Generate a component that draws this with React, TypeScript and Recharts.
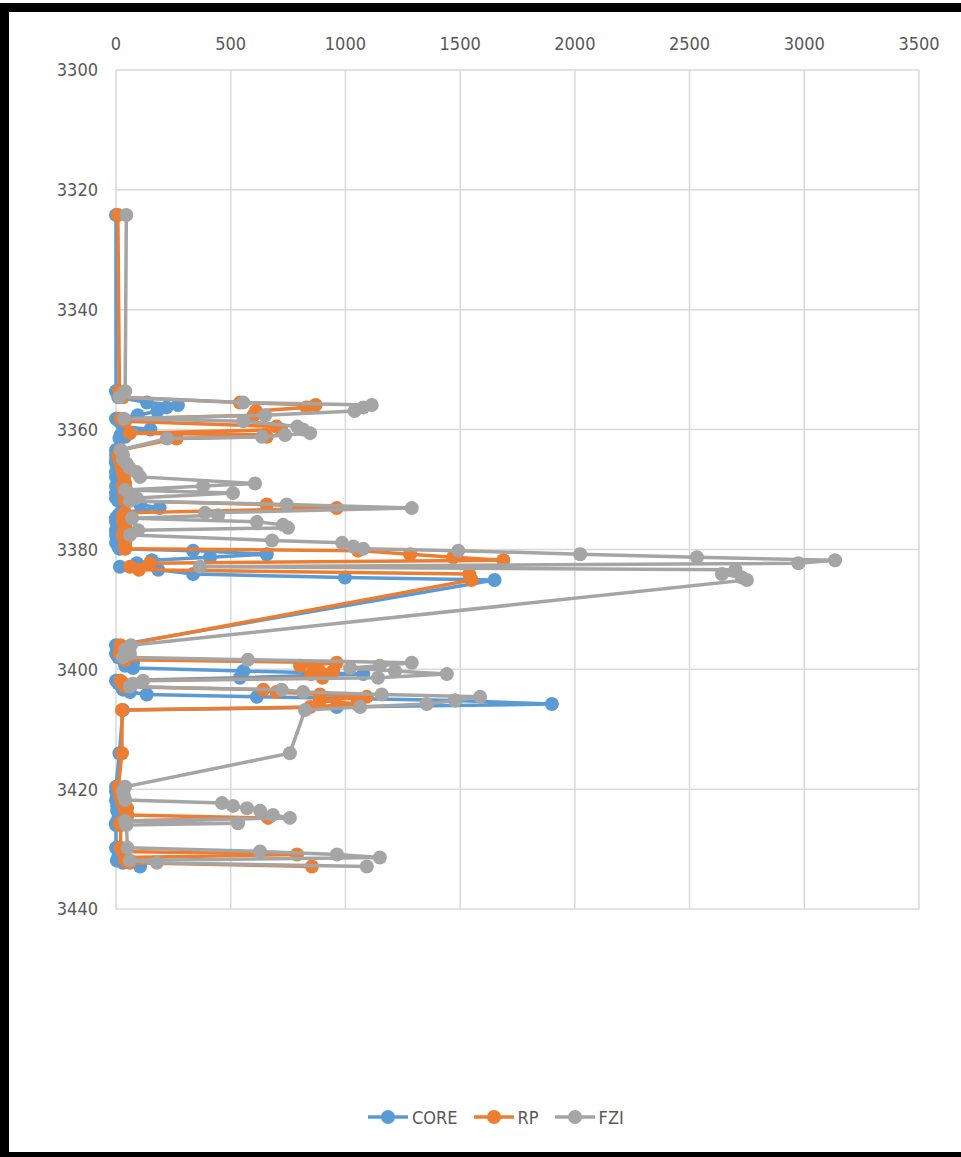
import React from 'react';
import { ScatterChart, Scatter, XAxis, YAxis, CartesianGrid } from 'recharts';

// depth (m) of each sample, top to bottom
const depth = [
  3324.2, 3353.6, 3354.6, 3355.5, 3355.9, 3356.3, 3356.9, 3357.6, 3358.2, 3358.6,
  3359.5, 3360.0, 3360.6, 3360.9, 3361.2, 3361.5, 3363.4, 3364.2,
  3364.9, 3365.6, 3366.4, 3367.1, 3367.9, 3369.0, 3369.4, 3370.1, 3370.6, 3371.4,
  3371.9, 3372.5, 3373.1, 3373.9, 3374.3, 3374.8, 3375.4, 3375.9, 3376.4, 3376.8,
  3377.6, 3378.5, 3378.9, 3379.5, 3379.9, 3380.2, 3380.8, 3381.3, 3381.8, 3382.3,
  3382.9, 3383.4, 3384.1, 3384.7, 3385.1,
  3396.0, 3396.7, 3397.4, 3398.0, 3398.4, 3398.9, 3399.4, 3399.8, 3400.3, 3400.8,
  3401.4, 3401.9, 3402.4, 3402.9, 3403.4, 3403.8, 3404.2, 3404.6, 3405.2, 3405.8,
  3406.3, 3406.8, 3414.0,
  3419.6, 3420.4, 3421.2, 3421.8, 3422.3, 3422.8, 3423.2, 3423.6, 3424.3, 3424.8,
  3425.3, 3425.7, 3426.0, 3429.8, 3430.4, 3430.9, 3431.4, 3431.9, 3432.3, 3432.9,
];

const core = [
  0, 0, 10, 135, 270, 220, 180, 95, 0, 15,
  30, 150, 60, 20, 40, 15, 0, 0,
  0, 0, 5, 0, 0, 10, 0, 5, 0, 0,
  10, 105, 190, 20, 10, 0, 0, 10, 5, 0,
  0, 5, 0, 10, 15, 336, 657, 410, 156, 91,
  17, 184, 336, 998, 1650,
  0, 5, 0, 10, 30, 74, 40, 74, 555, 1078,
  540, 0, 10, 61, 30, 61, 134, 614, 1478, 1900,
  962, 30, 15,
  0, 0, 5, 0, 10, 5, 10, 5, 20, 10,
  15, 0, 0, 0, 10, 20, 10, 4, 30, 105,
];

const rp = [
  8, 15, 30, 540, 870, 830, 610, 600, 20, 40,
  700, 720, 60, 650, 657, 264, 20, 10,
  15, 20, 25, 30, 35, 40, 30, 45, 35, 40,
  40, 657, 962, 40, 30, 40, 30, 40, 40, 35,
  30, 40, 40, 40, 40, 1055, 1282, 1470, 1688, 148,
  61, 100, 1540, 1543, 1550,
  20, 25, 15, 30, 40, 962, 802, 880, 946, 850,
  900, 20, 30, 40, 642, 700, 889, 1093, 889, 1050,
  846, 26, 26,
  10, 15, 20, 25, 30, 35, 48, 40, 50, 663,
  30, 17, 20, 20, 30, 789, 40, 39, 60, 854,
];

const fzi = [
  45, 40, 15, 555, 1115, 1078, 1040, 650, 35, 555,
  790, 815, 846, 737, 636, 222, 20, 30,
  30, 45, 60, 90, 105, 606, 380, 40, 510, 90,
  60, 744, 1289, 388, 445, 70, 614, 728, 750, 96,
  61, 680, 985, 1034, 1078, 1492, 2023, 2532, 3134, 2974,
  366, 2700, 2641, 2728, 2750,
  65, 40, 61, 30, 575, 1289, 1150, 1020, 1216, 1442,
  1142, 118, 74, 60, 722, 816, 1158, 1587, 1478, 1354,
  1064, 824, 758,
  40, 30, 35, 40, 462, 510, 571, 628, 684, 758,
  39, 532, 45, 50, 628, 963, 1150, 60, 178, 1093,
];

const xTicks = [0, 500, 1000, 1500, 2000, 2500, 3000, 3500];
const yTicks = [3300, 3320, 3340, 3360, 3380, 3400, 3420, 3440];

const SERIES = [
  { name: 'CORE', values: core, color: '#5B9BD5' },
  { name: 'RP', values: rp, color: '#ED7D31' },
  { name: 'FZI', values: fzi, color: '#A5A5A5' },
];

const FONT = "'Liberation Sans Narrow', 'Arial Narrow', 'DejaVu Sans Condensed', sans-serif";
const tickStyle = { fill: '#595959', fontSize: 18, fontFamily: FONT };

const toPoints = (vals: number[]) => depth.map((d, i) => ({ x: vals[i], y: d }));

const dot = (color: string) => (p: any) => <circle cx={p.cx} cy={p.cy} r={7} fill={color} />;

export default function App() {
  return (
    <div style={{ position: 'absolute', left: 0, top: 0, width: 961, height: 1157, background: '#fff', overflow: 'hidden' }}>
      <div
        style={{
          position: 'absolute', left: 0, top: 3, width: 980, height: 1154, boxSizing: 'border-box',
          borderTop: '9px solid #000', borderLeft: '9px solid #000', borderBottom: '5px solid #000',
        }}
      />
      <div style={{ position: 'absolute', left: 0, top: 0 }}>
        <ScatterChart width={961} height={1157} margin={{ top: 40, right: 42, bottom: 248, left: 56 }}>
          <CartesianGrid stroke="#D9D9D9" strokeWidth={1.5} />
          <XAxis
            type="number"
            dataKey="x"
            orientation="top"
            domain={[0, 3500]}
            ticks={xTicks}
            height={30}
            axisLine={false}
            tickLine={false}
            tickMargin={14}
            tick={tickStyle}
          />
          <YAxis
            type="number"
            dataKey="y"
            domain={[3300, 3440]}
            ticks={yTicks}
            reversed
            width={60}
            axisLine={false}
            tickLine={false}
            tickMargin={12}
            tick={tickStyle}
          />
          {SERIES.map((s) => (
            <Scatter
              key={s.name}
              name={s.name}
              data={toPoints(s.values)}
              fill={s.color}
              line={{ stroke: s.color, strokeWidth: 3.5 }}
              lineType="joint"
              shape={dot(s.color)}
              isAnimationActive={false}
            />
          ))}
        </ScatterChart>
      </div>
      <div style={{ position: 'absolute', left: 368, top: 1104, display: 'flex', alignItems: 'center', fontFamily: FONT, fontSize: 18, color: '#595959' }}>
        {SERIES.map((s) => (
          <div key={s.name} style={{ display: 'flex', alignItems: 'center', marginRight: 16 }}>
            <svg width={40} height={26}>
              <line x1={0} y1={13} x2={40} y2={13} stroke={s.color} strokeWidth={3.5} />
              <circle cx={20} cy={13} r={7} fill={s.color} />
            </svg>
            <span style={{ marginLeft: 4 }}>{s.name}</span>
          </div>
        ))}
      </div>
    </div>
  );
}
